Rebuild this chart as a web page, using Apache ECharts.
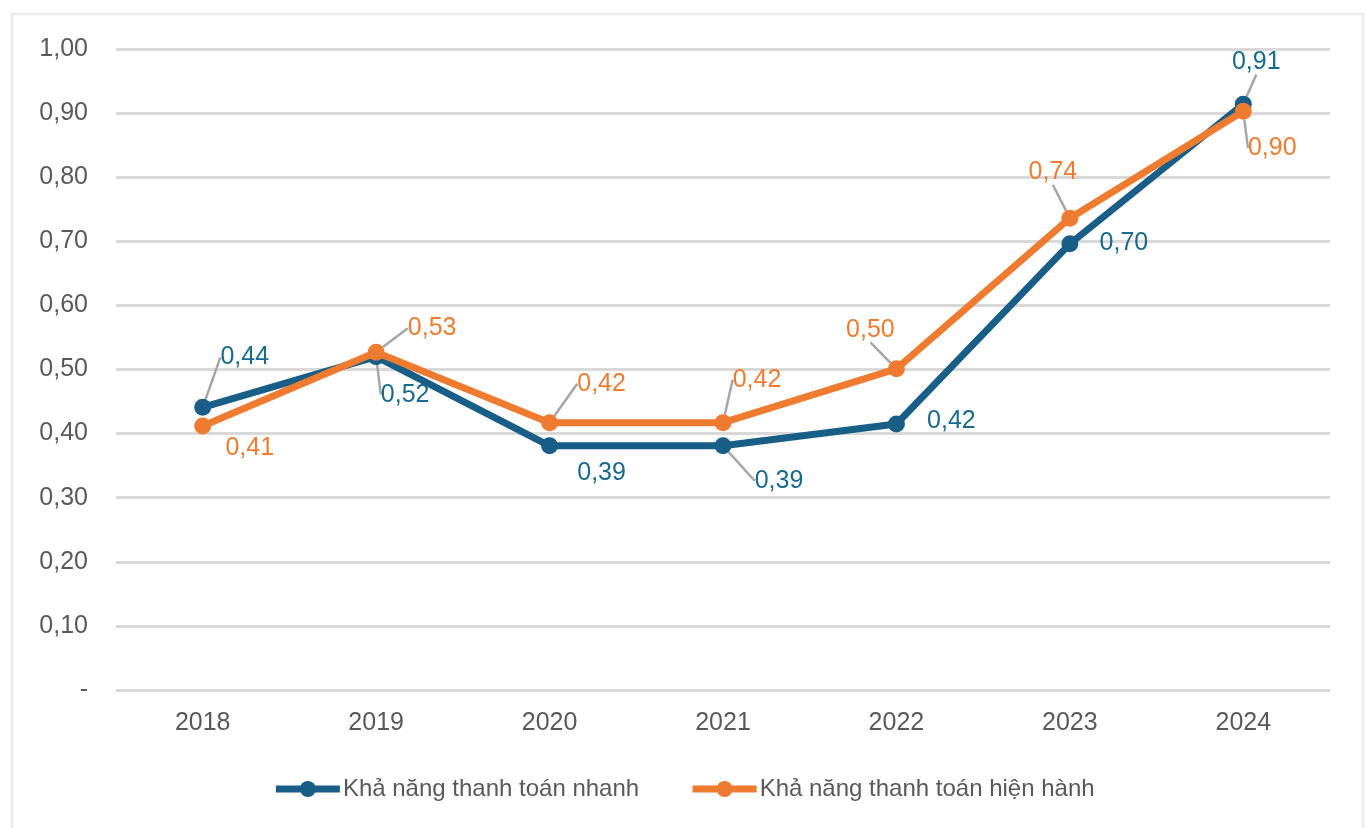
<!DOCTYPE html>
<html><head><meta charset="utf-8">
<script src="https://cdn.jsdelivr.net/npm/echarts@6/dist/echarts.min.js"></script>
<style>html,body{margin:0;padding:0;background:#fff}#c{width:1367px;height:828px}</style>
</head><body><div id="c"></div>
<script>
const years = ['2018','2019','2020','2021','2022','2023','2024'];
const quickName = 'Khả năng thanh toán nhanh';
const currentName = 'Khả năng thanh toán hiện hành';
const quickValues = [0.441, 0.520, 0.381, 0.381, 0.415, 0.696, 0.914];
const currentValues = [0.412, 0.527, 0.417, 0.417, 0.501, 0.736, 0.903];
const quickLabels = ['0,44','0,52','0,39','0,39','0,42','0,70','0,91'];
const currentLabels = ['0,41','0,53','0,42','0,42','0,50','0,74','0,90'];
// label placement (style only)
const quickOffsets = [[42,-50],[29,38],[52,27],[56,35],[55,-3],[54,-1],[13,-42]];
const currentOffsets = [[47,22],[56,-24],[52,-39],[34,-43],[-26,-39],[-17,-46],[29,37]];
const quickLeader = [true,true,false,true,false,false,true];
const currentLeader = [false,true,true,true,true,true,true];

const BLUE = '#185E86', ORANGE = '#EF7B30', GRAY = '#595959';
const FONT = '"Liberation Sans", Arial, sans-serif';

function build(values, leader){
  return values.map((v,i)=>({value:v, labelLine:{show:leader[i]}}));
}
function mkSeries(name, values, labels, offsets, leader, color, z){
  return {
    name, type:'line', data: build(values, leader), z,
    symbol:'circle', symbolSize:17,
    lineStyle:{color, width:7}, itemStyle:{color},
    label:{show:true, position:'inside', color: color === BLUE ? '#176A8C' : color,
      fontSize:25, fontFamily:FONT,
      formatter: p => labels[p.dataIndex]},
    labelLine:{show:true, lineStyle:{color:'#A6A6A6', width:2.5}},
    labelLayout: p => ({dx: offsets[p.dataIndex][0], dy: offsets[p.dataIndex][1]}),
    emphasis:{disabled:true}, animation:false
  };
}

const chart = echarts.init(document.getElementById('c'));
chart.setOption({
  animation:false,
  textStyle:{fontFamily:FONT},
  graphic:[{type:'rect', shape:{x:12, y:14, width:1351, height:820}, style:{fill:'none', stroke:'#ececec', lineWidth:3}, silent:true}],
  grid:{left:116, right:37, top:49, bottom:138},
  xAxis:{type:'category', data:years, boundaryGap:true,
    axisLine:{show:false}, axisTick:{show:false},
    axisLabel:{color:GRAY, fontSize:25, margin:21, fontFamily:FONT}},
  yAxis:{type:'value', min:0, max:1, interval:0.1,
    axisLine:{show:false}, axisTick:{show:false},
    splitLine:{lineStyle:{color:'#D9D9D9', width:3}},
    axisLabel:{color:GRAY, fontSize:25, margin:28, fontFamily:FONT,
      formatter: v => v === 0 ? '-' : v.toFixed(2).replace('.', ',')}},
  legend:{bottom:22, left:'center', itemWidth:64, itemHeight:20, itemGap:50,
    lineStyle:{width:7},
    textStyle:{color:GRAY, fontSize:24, fontFamily:FONT, padding:[0,0,0,-2]},
    data:[quickName, currentName]},
  series:[
    mkSeries(quickName, quickValues, quickLabels, quickOffsets, quickLeader, BLUE, 2),
    mkSeries(currentName, currentValues, currentLabels, currentOffsets, currentLeader, ORANGE, 3)
  ]
});
</script></body></html>
